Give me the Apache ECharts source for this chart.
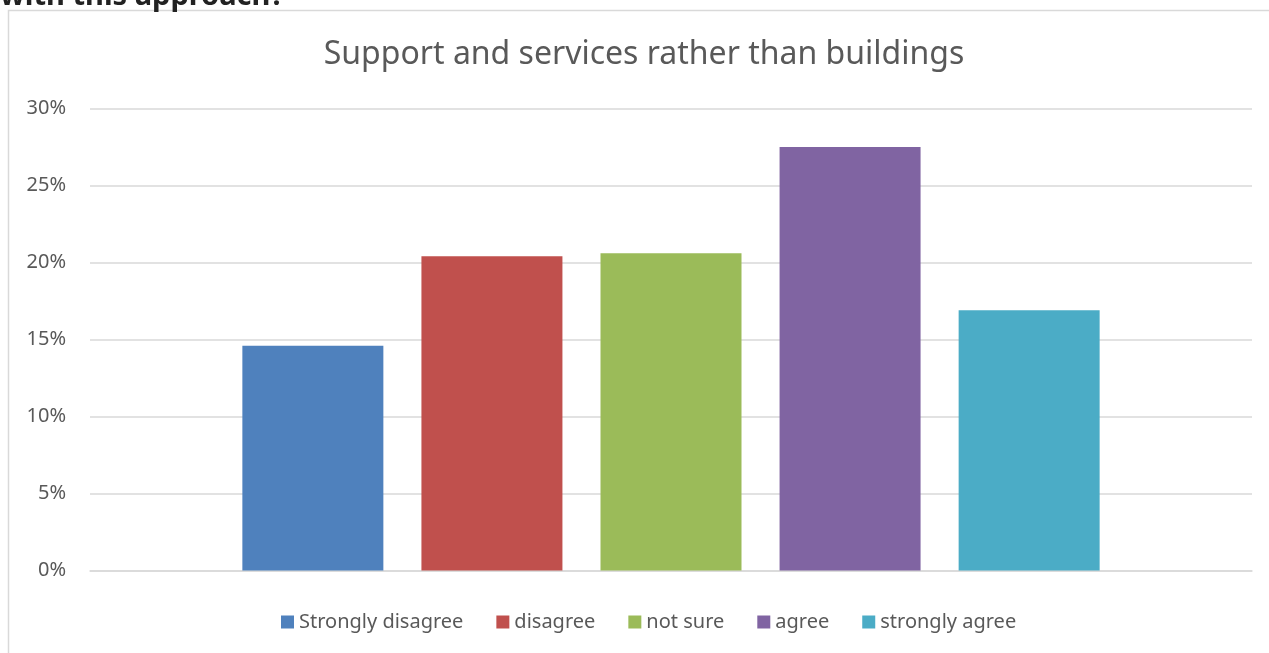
<!DOCTYPE html>
<html>
<head>
<meta charset="utf-8">
<script src="https://cdn.jsdelivr.net/npm/echarts@6/dist/echarts.min.js"></script>
<style>
  html, body { margin: 0; padding: 0; background: #fff; }
  #chart { width: 1269px; height: 653px; }
</style>
</head>
<body>
<div id="chart"></div>
<script>
// Survey responses: share of respondents per answer
const categories = ['Support and services rather than buildings'];
const seriesNames = ['Strongly disagree', 'disagree', 'not sure', 'agree', 'strongly agree'];
const seriesValues = [0.146, 0.204, 0.206, 0.275, 0.169];
const seriesColors = ['#4f81bd', '#c0504d', '#9bbb59', '#8064a2', '#4bacc6'];
const yTicks = { min: 0, max: 0.3, interval: 0.05 };

const FONT = 'Noto Sans';
const TEXT = '#595959';

const chart = echarts.init(document.getElementById('chart'), null, { renderer: 'canvas' });

const series = seriesNames.map((name, i) => ({
  name: name,
  type: 'bar',
  data: [seriesValues[i]],
  barWidth: 141,
  barGap: '27%',
  itemStyle: { color: seriesColors[i] }
}));

chart.setOption({
  animation: false,
  backgroundColor: '#fff',
  graphic: [
    {
      type: 'rect',
      shape: { x: 8.5, y: 10.5, width: 1400, height: 800 },
      style: { fill: null, stroke: '#d9d9d9', lineWidth: 1.5 },
      silent: true
    },
    {
      type: 'text',
      style: {
        x: 0,
        y: -3,
        text: 'with this approach?',
        font: 'bold 29px "Noto Sans"',
        fill: '#222',
        verticalAlign: 'middle'
      },
      silent: true
    },
    {
      type: 'text',
      style: {
        x: 644,
        y: 55,
        text: categories[0],
        font: '32px "Noto Sans"',
        fill: TEXT,
        align: 'center',
        verticalAlign: 'middle'
      },
      silent: true
    }
  ],
  legend: {
    data: seriesNames,
    left: 281,
    top: 612,
    padding: 0,
    itemWidth: 13,
    itemHeight: 13,
    itemGap: 33,
    icon: 'rect',
    textStyle: { fontFamily: FONT, fontSize: 20, color: TEXT }
  },
  grid: { left: 90, right: 17, top: 108.5, bottom: 82.5, containLabel: false },
  xAxis: {
    type: 'category',
    data: categories,
    axisLine: { show: true, lineStyle: { color: '#d9d9d9', width: 1.5 } },
    axisTick: { show: false },
    axisLabel: { show: false }
  },
  yAxis: {
    type: 'value',
    min: yTicks.min,
    max: yTicks.max,
    interval: yTicks.interval,
    axisLine: { show: false },
    axisTick: { show: false },
    splitLine: { lineStyle: { color: '#d9d9d9', width: 1.5 } },
    axisLabel: {
      margin: 24,
      fontFamily: FONT,
      fontSize: 20,
      color: TEXT,
      formatter: v => Math.round(v * 100) + '%'
    }
  },
  series: series
});
</script>
</body>
</html>
